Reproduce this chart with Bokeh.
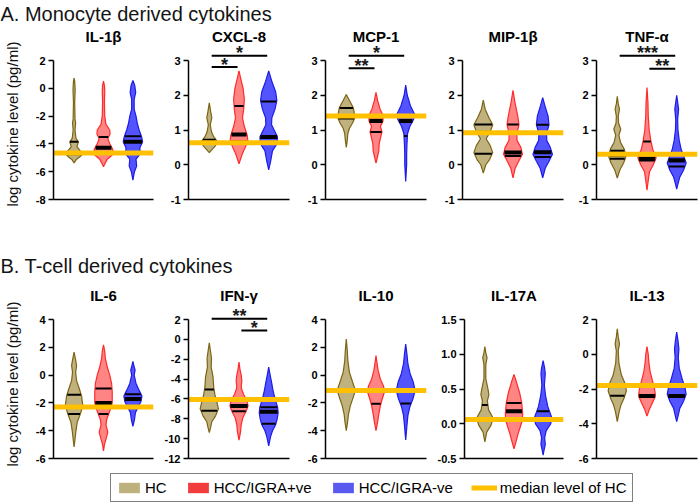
import numpy as np
from bokeh.plotting import figure
from bokeh.layouts import column, row
from bokeh.models import FixedTicker, Legend, LegendItem, Range1d, Span, ColumnDataSource
from bokeh.core.properties import value
from bokeh.embed import file_html
from bokeh.resources import INLINE

# ---------------- data ----------------
GROUPS = ["HC", "HCC/IGRA+ve", "HCC/IGRA-ve"]
MEDIAN_LABEL = "median level of HC"
SECTION_A = "A. Monocyte derived cytokines"
SECTION_B = "B. T-cell derived cytokines"
Y_LABEL = "log cytokine level  (pg/ml)"

# violin outlines: (log level, half width)
IL1B_TICKS = [-8, -6, -4, -2, 0, 2]
IL1B_HC = [(0.73, 0), (0.5, 0.02), (-0.1, 0.035), (-1.0, 0.02), (-2.2, 0.03), (-2.5, 0.05), (-3.0, 0.03), (-3.6, 0.06), (-3.85, 0.14), (-4.2, 0.09), (-4.5, 0.2), (-4.7, 0.28), (-4.9, 0.2), (-5.1, 0.08), (-5.37, 0)]
IL1B_POS = [(0.52, 0), (0.2, 0.03), (-0.2, 0.04), (-1.0, 0.03), (-2.0, 0.04), (-2.6, 0.08), (-3.0, 0.2), (-3.3, 0.21), (-3.6, 0.14), (-4.0, 0.2), (-4.4, 0.3), (-4.8, 0.28), (-5.1, 0.12), (-5.4, 0.05), (-5.65, 0)]
IL1B_NEG = [(0.56, 0), (0.2, 0.06), (-0.3, 0.09), (-0.8, 0.04), (-1.5, 0.04), (-2.0, 0.1), (-2.5, 0.14), (-3.0, 0.2), (-3.5, 0.28), (-3.85, 0.31), (-4.3, 0.22), (-4.7, 0.24), (-5.1, 0.1), (-5.6, 0.12), (-6.0, 0.05), (-6.6, 0)]
IL1B_QUART = [(-4.75, -4.65, -3.85), (-4.7, -4.27, -3.5), (-4.7, -3.85, -3.45)]
IL1B_HC_MED = -4.65
IL1B_SIG = []

CXCL8_TICKS = [-1, 0, 1, 2, 3]
CXCL8_HC = [(1.78, 0), (1.55, 0.04), (1.35, 0.08), (1.15, 0.03), (0.95, 0.07), (0.8, 0.14), (0.68, 0.25), (0.55, 0.2), (0.45, 0.1), (0.35, 0)]
CXCL8_POS = [(2.7, 0), (2.5, 0.05), (2.2, 0.13), (1.9, 0.17), (1.6, 0.15), (1.35, 0.11), (1.1, 0.17), (0.85, 0.26), (0.7, 0.28), (0.5, 0.2), (0.3, 0.1), (0.03, 0)]
CXCL8_NEG = [(2.7, 0), (2.4, 0.1), (2.1, 0.22), (1.85, 0.26), (1.6, 0.2), (1.35, 0.1), (1.15, 0.09), (0.95, 0.2), (0.8, 0.28), (0.6, 0.26), (0.4, 0.12), (0.1, 0.06), (-0.15, 0)]
CXCL8_QUART = [(0.6, 0.64, 0.72), (0.67, 0.87, 1.69), (0.63, 0.8, 1.82)]
CXCL8_HC_MED = 0.63
CXCL8_SIG = [(1, 2, 2.81, "*"), (1, 3, 3.14, "*")]

MCP1_TICKS = [-1, 0, 1, 2, 3]
MCP1_HC = [(2.02, 0), (1.85, 0.1), (1.65, 0.22), (1.5, 0.25), (1.35, 0.27), (1.2, 0.2), (1.05, 0.1), (0.9, 0.05), (0.7, 0.03), (0.5, 0)]
MCP1_POS = [(2.08, 0), (1.85, 0.05), (1.6, 0.13), (1.4, 0.23), (1.25, 0.22), (1.1, 0.14), (0.95, 0.19), (0.8, 0.15), (0.6, 0.1), (0.4, 0.09), (0.2, 0.04), (0.05, 0)]
MCP1_NEG = [(2.29, 0), (2.0, 0.05), (1.7, 0.15), (1.45, 0.28), (1.3, 0.25), (1.1, 0.13), (0.9, 0.06), (0.6, 0.04), (0.3, 0.03), (0.0, 0.03), (-0.48, 0)]
MCP1_QUART = [(1.33, 1.38, 1.63), (0.94, 1.26, 1.37), (0.83, 1.26, 1.43)]
MCP1_HC_MED = 1.4
MCP1_SIG = [(1, 2, 2.78, "**"), (1, 3, 3.14, "*")]

MIP1B_TICKS = [-1, 0, 1, 2, 3]
MIP1B_HC = [(1.86, 0), (1.6, 0.06), (1.35, 0.18), (1.15, 0.3), (0.95, 0.22), (0.75, 0.09), (0.55, 0.22), (0.35, 0.3), (0.15, 0.2), (0.0, 0.08), (-0.24, 0)]
MIP1B_POS = [(2.14, 0), (1.8, 0.06), (1.4, 0.15), (1.15, 0.19), (0.9, 0.12), (0.7, 0.13), (0.5, 0.25), (0.3, 0.3), (0.1, 0.18), (-0.1, 0.07), (-0.38, 0)]
MIP1B_NEG = [(1.93, 0), (1.7, 0.07), (1.4, 0.17), (1.15, 0.2), (0.9, 0.12), (0.7, 0.13), (0.5, 0.24), (0.3, 0.31), (0.1, 0.2), (-0.1, 0.08), (-0.38, 0)]
MIP1B_QUART = [(0.32, 0.92, 1.16), (0.25, 0.35, 1.16), (0.22, 0.36, 1.15)]
MIP1B_HC_MED = 0.92
MIP1B_SIG = []

TNFA_TICKS = [-1, 0, 1, 2, 3]
TNFA_HC = [(1.97, 0), (1.75, 0.03), (1.6, 0.07), (1.4, 0.03), (1.2, 0.04), (1.02, 0.11), (0.85, 0.05), (0.65, 0.1), (0.45, 0.22), (0.25, 0.28), (0.05, 0.2), (-0.15, 0.08), (-0.38, 0)]
TNFA_POS = [(2.22, 0), (1.8, 0.03), (1.4, 0.04), (1.0, 0.07), (0.7, 0.12), (0.45, 0.18), (0.2, 0.29), (0.0, 0.2), (-0.2, 0.08), (-0.45, 0.04), (-0.73, 0)]
TNFA_NEG = [(2.0, 0), (1.8, 0.03), (1.6, 0.06), (1.3, 0.03), (1.0, 0.04), (0.7, 0.08), (0.45, 0.14), (0.2, 0.24), (0.05, 0.3), (-0.15, 0.22), (-0.35, 0.1), (-0.55, 0.04), (-0.7, 0)]
TNFA_QUART = [(0.17, 0.28, 0.4), (0.12, 0.17, 0.67), (-0.05, 0.12, 0.15)]
TNFA_HC_MED = 0.3
TNFA_SIG = [(1, 3, 3.14, "***"), (2, 3, 2.76, "**")]

IL6_TICKS = [-6, -4, -2, 0, 2, 4]
IL6_HC = [(1.66, 0), (1.2, 0.04), (0.7, 0.08), (0.2, 0.05), (-0.4, 0.08), (-1.0, 0.17), (-1.5, 0.24), (-2.2, 0.28), (-2.8, 0.2), (-3.4, 0.1), (-4.0, 0.06), (-4.6, 0.03), (-5.16, 0)]
IL6_POS = [(2.18, 0), (1.7, 0.04), (1.2, 0.06), (0.6, 0.12), (0.0, 0.2), (-0.6, 0.26), (-1.2, 0.28), (-2.0, 0.28), (-2.6, 0.2), (-3.2, 0.1), (-3.6, 0.08), (-4.1, 0.14), (-4.6, 0.08), (-5.0, 0.03), (-5.45, 0)]
IL6_NEG = [(0.99, 0), (0.6, 0.04), (0.35, 0.07), (0.0, 0.04), (-0.6, 0.1), (-1.1, 0.2), (-1.5, 0.29), (-1.9, 0.26), (-2.3, 0.17), (-2.7, 0.08), (-3.2, 0.05), (-3.68, 0)]
IL6_QUART = [(-2.8, -2.3, -1.42), (-2.8, -2.0, -0.97), (-2.3, -1.72, -1.38)]
IL6_HC_MED = -2.3
IL6_SIG = []

IFNG_TICKS = [-12, -10, -8, -6, -4, -2, 0, 2]
IFNG_HC = [(-0.34, 0), (-1.0, 0.03), (-1.9, 0.07), (-2.8, 0.06), (-3.8, 0.12), (-4.8, 0.14), (-5.6, 0.18), (-6.3, 0.24), (-7.0, 0.29), (-7.7, 0.2), (-8.3, 0.08), (-8.9, 0.04), (-9.39, 0)]
IFNG_POS = [(-2.29, 0), (-3.0, 0.03), (-3.6, 0.07), (-4.2, 0.09), (-4.9, 0.07), (-5.5, 0.14), (-6.1, 0.24), (-6.7, 0.29), (-7.3, 0.22), (-7.9, 0.12), (-8.6, 0.07), (-9.3, 0.05), (-10.16, 0)]
IFNG_NEG = [(-2.79, 0), (-3.5, 0.04), (-4.3, 0.09), (-5.2, 0.14), (-6.0, 0.2), (-6.8, 0.28), (-7.4, 0.3), (-8.0, 0.27), (-8.6, 0.22), (-9.2, 0.12), (-9.8, 0.06), (-10.72, 0)]
IFNG_QUART = [(-7.2, -6.1, -5.05), (-7.25, -6.7, -6.1), (-8.5, -7.3, -6.85)]
IFNG_HC_MED = -6.05
IFNG_SIG = [(1, 3, 2.07, "**"), (2, 3, 0.9, "*")]

IL10_TICKS = [-6, -4, -2, 0, 2, 4]
IL10_HC = [(2.59, 0), (1.8, 0.03), (1.0, 0.05), (0.2, 0.1), (-0.5, 0.2), (-1.1, 0.29), (-1.6, 0.22), (-2.2, 0.13), (-2.8, 0.07), (-3.4, 0.04), (-4.0, 0)]
IL10_POS = [(1.41, 0), (0.9, 0.03), (0.3, 0.07), (-0.3, 0.14), (-0.8, 0.24), (-1.2, 0.27), (-1.7, 0.2), (-2.2, 0.14), (-2.8, 0.09), (-3.4, 0.05), (-4.0, 0)]
IL10_NEG = [(2.24, 0), (1.5, 0.04), (0.8, 0.07), (0.1, 0.14), (-0.5, 0.24), (-1.1, 0.3), (-1.7, 0.23), (-2.3, 0.13), (-2.9, 0.07), (-3.6, 0.04), (-4.66, 0)]
IL10_QUART = [(-1.18, -1.1, -1.02), (-2.07, -1.13, -1.05), (-2.05, -1.1, -1.02)]
IL10_HC_MED = -1.1
IL10_SIG = []

IL17A_TICKS = [-0.5, 0.0, 0.5, 1.0, 1.5]
IL17A_HC = [(1.11, 0), (1.02, 0.03), (0.95, 0.07), (0.85, 0.03), (0.65, 0.03), (0.5, 0.1), (0.42, 0.13), (0.33, 0.08), (0.2, 0.12), (0.08, 0.27), (-0.02, 0.2), (-0.12, 0.06), (-0.26, 0)]
IL17A_POS = [(0.71, 0), (0.6, 0.08), (0.45, 0.18), (0.3, 0.25), (0.15, 0.28), (0.05, 0.27), (-0.05, 0.2), (-0.15, 0.13), (-0.25, 0.07), (-0.36, 0)]
IL17A_NEG = [(0.91, 0), (0.8, 0.05), (0.72, 0.07), (0.55, 0.04), (0.4, 0.08), (0.25, 0.15), (0.1, 0.27), (0.0, 0.25), (-0.1, 0.1), (-0.2, 0.05), (-0.3, 0.07), (-0.38, 0.03), (-0.45, 0)]
IL17A_QUART = [(0.04, 0.06, 0.27), (0.06, 0.18, 0.3), (0.04, 0.06, 0.18)]
IL17A_HC_MED = 0.06
IL17A_SIG = []

IL13_TICKS = [-6, -4, -2, 0, 2]
IL13_HC = [(1.47, 0), (1.0, 0.03), (0.6, 0.07), (0.2, 0.03), (-0.5, 0.05), (-1.2, 0.13), (-1.7, 0.25), (-2.1, 0.29), (-2.5, 0.22), (-2.9, 0.12), (-3.3, 0.06), (-3.88, 0)]
IL13_POS = [(0.44, 0), (0.0, 0.04), (-0.5, 0.06), (-1.0, 0.1), (-1.5, 0.17), (-2.0, 0.24), (-2.4, 0.27), (-2.8, 0.17), (-3.2, 0.07), (-3.56, 0)]
IL13_NEG = [(1.28, 0), (0.8, 0.04), (0.3, 0.07), (-0.2, 0.05), (-0.8, 0.08), (-1.4, 0.17), (-1.9, 0.26), (-2.3, 0.3), (-2.7, 0.22), (-3.1, 0.1), (-3.5, 0.05), (-3.88, 0)]
IL13_QUART = [(-2.39, -1.83, -1.8), (-2.45, -2.4, -1.83), (-2.45, -2.4, -1.83)]
IL13_HC_MED = -1.8
IL13_SIG = []

# ---------------- style ----------------
FONT = "Liberation Sans"
FILL = ["#BFB27F", "#FF8585", "#5454FF"]
EDGE = ["#7D6414", "#FF2A2A", "#1C1CE6"]
LEGEND_FILL = ["#BDB27D", "#F23D3D", "#5959F0"]
GOLD = "#FFC000"
FRAME_W = 101
LEFT = [52, 28, 28, 28, 28]
RIGHT = [7, 8, 8, 5, 3]
WIDTH_SCALE = 1.06

PANELS_A = [
    ("IL-1β", IL1B_TICKS, [IL1B_HC, IL1B_POS, IL1B_NEG], IL1B_QUART, IL1B_HC_MED, IL1B_SIG, 0),
    ("CXCL-8", CXCL8_TICKS, [CXCL8_HC, CXCL8_POS, CXCL8_NEG], CXCL8_QUART, CXCL8_HC_MED, CXCL8_SIG, 0),
    ("MCP-1", MCP1_TICKS, [MCP1_HC, MCP1_POS, MCP1_NEG], MCP1_QUART, MCP1_HC_MED, MCP1_SIG, 0),
    ("MIP-1β", MIP1B_TICKS, [MIP1B_HC, MIP1B_POS, MIP1B_NEG], MIP1B_QUART, MIP1B_HC_MED, MIP1B_SIG, 0),
    ("TNF-α", TNFA_TICKS, [TNFA_HC, TNFA_POS, TNFA_NEG], TNFA_QUART, TNFA_HC_MED, TNFA_SIG, 0),
]
PANELS_B = [
    ("IL-6", IL6_TICKS, [IL6_HC, IL6_POS, IL6_NEG], IL6_QUART, IL6_HC_MED, IL6_SIG, 0),
    ("IFN-γ", IFNG_TICKS, [IFNG_HC, IFNG_POS, IFNG_NEG], IFNG_QUART, IFNG_HC_MED, IFNG_SIG, 0),
    ("IL-10", IL10_TICKS, [IL10_HC, IL10_POS, IL10_NEG], IL10_QUART, IL10_HC_MED, IL10_SIG, 0),
    ("IL-17A", IL17A_TICKS, [IL17A_HC, IL17A_POS, IL17A_NEG], IL17A_QUART, IL17A_HC_MED, IL17A_SIG, 1),
    ("IL-13", IL13_TICKS, [IL13_HC, IL13_POS, IL13_NEG], IL13_QUART, IL13_HC_MED, IL13_SIG, 0),
]


def make_panel(spec, i, top_b, frame_h, bot_b, extra_px, title_standoff):
    name, ticks, shapes, quart, hc_med, sig, dec = spec
    lo, hi = min(ticks), max(ticks)
    upp = (hi - lo) / (frame_h - extra_px)
    p = figure(width=LEFT[i] + FRAME_W + RIGHT[i], height=top_b + frame_h + bot_b,
               x_range=Range1d(0.3, 3.7), y_range=Range1d(lo, hi + extra_px * upp),
               output_backend="svg", toolbar_location=None, title=name,
               min_border_left=LEFT[i], min_border_right=RIGHT[i],
               min_border_top=top_b, min_border_bottom=bot_b)
    p.outline_line_color = None
    p.xgrid.visible = False
    p.ygrid.visible = False
    p.title.align = "center"
    p.title.text_font = FONT
    p.title.text_font_size = "15px"
    p.title.text_font_style = "bold"
    p.title.text_color = "black"
    p.title.standoff = title_standoff

    p.xaxis.ticker = FixedTicker(ticks=[])
    p.xaxis.major_tick_out = 0
    p.xaxis.major_tick_in = 0
    p.xaxis.major_label_standoff = 0
    p.xaxis.axis_line_width = 1.5
    p.xaxis.axis_line_color = "black"

    ya = p.yaxis[0]
    ya.ticker = FixedTicker(ticks=ticks)
    ya.bounds = (lo, hi)
    ya.major_label_overrides = {t: (f"{t:.1f}" if dec else f"{t:g}") for t in ticks}
    ya.major_label_text_font = FONT
    ya.major_label_text_font_size = "11px"
    ya.major_label_text_font_style = "bold"
    ya.major_label_text_color = "black"
    ya.major_label_standoff = 3
    ya.major_tick_out = 5
    ya.major_tick_in = 0
    ya.major_tick_line_width = 1.5
    ya.minor_tick_line_color = None
    ya.axis_line_width = 1.5
    ya.axis_line_color = "black"
    if i == 0:
        ya.axis_label = Y_LABEL
        ya.axis_label_text_font = FONT
        ya.axis_label_text_font_size = "15px"
        ya.axis_label_text_font_style = "normal"
        ya.axis_label_text_color = "#111111"
        ya.axis_label_standoff = 12

    # violins
    for g, shape in enumerate(shapes):
        ys = [s[0] for s in shape]
        hw = [s[1] * WIDTH_SCALE for s in shape]
        cx = g + 1
        xs = [cx + h for h in hw] + [cx - h for h in reversed(hw)]
        yy = ys + ys[::-1]
        p.patch(xs, yy, fill_color=FILL[g], line_color=EDGE[g], line_width=1.2)

    # median level of HC
    p.add_layout(Span(location=hc_med, dimension="width", line_color=GOLD,
                      line_width=5, level="glyph"))

    # quartile / median lines
    x0, x1, yq, lw = [], [], [], []
    for g, shape in enumerate(shapes):
        ys = np.array([s[0] for s in shape])[::-1]
        hw = np.array([s[1] * WIDTH_SCALE for s in shape])[::-1]
        cx = g + 1
        q1, med, q3 = quart[g]
        for q, w in ((q1, 2), (q3, 2), (med, 4)):
            h = float(np.interp(q, ys, hw)) * 0.95
            x0.append(cx - h); x1.append(cx + h); yq.append(q); lw.append(w)
    src = ColumnDataSource(dict(x0=x0, x1=x1, y=yq, lw=lw))
    p.segment(x0="x0", y0="y", x1="x1", y1="y", line_width="lw", line_color="black",
              source=src)

    # significance bars
    if sig:
        bx0 = [s[0] + 0.08 for s in sig]
        bx1 = [s[1] - 0.05 for s in sig]
        by = [s[2] for s in sig]
        p.segment(x0=bx0, y0=by, x1=bx1, y1=by, line_width=2, line_color="black")
        p.text(x=[(a + b) / 2 for a, b in zip(bx0, bx1)],
               y=[s[2] + 2.5 * upp for s in sig], text=[s[3] for s in sig],
               text_font=value(FONT), text_font_size="18px", text_font_style="bold",
               text_align="center", text_baseline="alphabetic", text_color="#1a1a1a")
    return p


def make_header(text, h):
    p = figure(width=700, height=h, x_range=Range1d(0, 1), y_range=Range1d(0, 1),
               output_backend="svg", toolbar_location=None, min_border=0,
               x_axis_location=None, y_axis_location=None)
    p.outline_line_color = None
    p.grid.visible = False
    p.text(x=[0], y=[0], text=[text], text_font=value(FONT), text_font_size="20px",
           text_baseline="bottom", text_align="left", text_color="#141414")
    return p


def make_legend():
    p = figure(width=700, height=37, x_range=Range1d(0, 1), y_range=Range1d(0, 1),
               output_backend="svg", toolbar_location=None, min_border=0,
               x_axis_location=None, y_axis_location=None)
    p.outline_line_color = None
    p.grid.visible = False
    items = []
    for g, name in enumerate(GROUPS):
        r = p.rect(x=[0.5], y=[0.5], width=0.1, height=0.1, fill_color=LEGEND_FILL[g],
                   line_color=None, visible=False)
        items.append(LegendItem(label=name, renderers=[r]))
    r = p.line(x=[0.4, 0.6], y=[0.5, 0.5], line_color=GOLD, line_width=5, visible=False)
    items.append(LegendItem(label=MEDIAN_LABEL, renderers=[r]))
    leg = Legend(items=items, orientation="horizontal", location=(110, 1),
                 label_text_font=FONT, label_text_font_size="15px", label_text_color="black",
                 glyph_width=26, glyph_height=13, label_height=17, label_standoff=3,
                 spacing=18, padding=5, margin=0, border_line_color="black",
                 border_line_width=1.5, background_fill_color="white", background_fill_alpha=1)
    p.add_layout(leg)
    return p


row_a = row([make_panel(s, i, 20, 155, 8, 16, 0) for i, s in enumerate(PANELS_A)])
row_b = row([make_panel(s, i, 29, 153, 8, 14, 4) for i, s in enumerate(PANELS_B)])
layout = column([make_header(SECTION_A, 24), row_a, make_header(SECTION_B, 69), row_b, make_legend()])

open("out.html", "w").write(file_html(layout, INLINE))
